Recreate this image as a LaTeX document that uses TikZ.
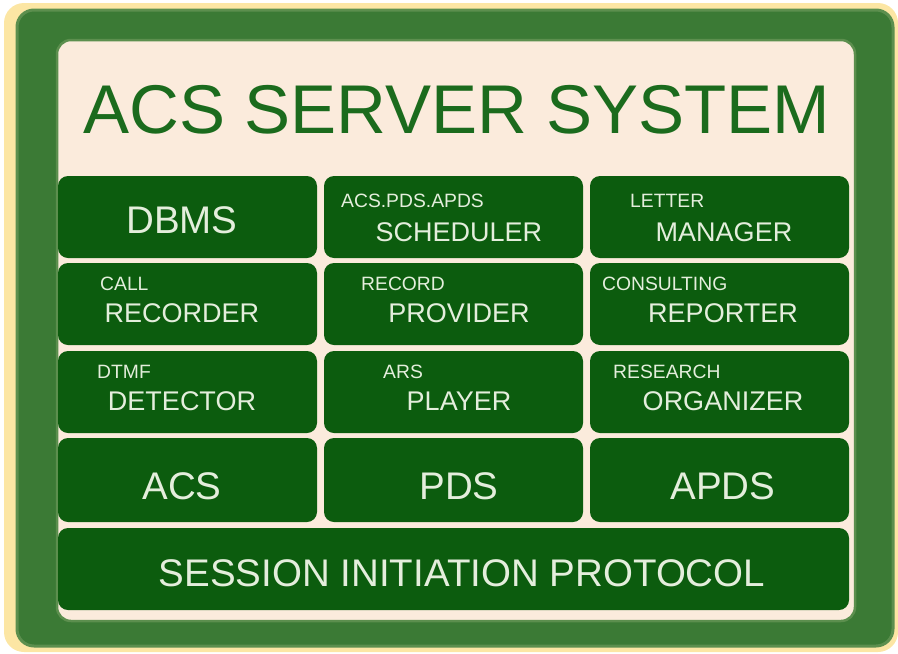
\documentclass[tikz,border=0pt]{standalone}
\usepackage{fontspec}
\setmainfont{Liberation Sans}
\usetikzlibrary{positioning}
\definecolor{glow}{HTML}{FCE6A4}
\definecolor{framegreen}{HTML}{3B7A35}
\definecolor{frameedge}{HTML}{5C8F4E}
\definecolor{panel}{HTML}{FBEBDC}
\definecolor{boxgreen}{HTML}{0C5C0E}
\definecolor{boxtext}{HTML}{E4EEDC}
\definecolor{titlegreen}{HTML}{1B6B1D}

\begin{document}
\begin{tikzpicture}[x=1pt,y=-1pt,
  block/.style={fill=boxgreen, rounded corners=10pt, minimum width=259pt, minimum height=82pt, inner sep=0pt},
  big/.style={text=boxtext, font=\fontsize{38.5}{38.5}\selectfont},
  mid/.style={text=boxtext, font=\fontsize{27}{27}\selectfont},
  tag/.style={text=boxtext, font=\fontsize{19.3}{19.3}\selectfont, anchor=west, inner sep=0pt}]
  \useasboundingbox (0,0) rectangle (898,654);

  % Frame and panel
  \fill[glow, rounded corners=20pt] (4,3) rectangle (898,652);
  \draw[fill=framegreen, draw=frameedge, line width=3pt, rounded corners=17pt] (17,10) rectangle (893,646);
  \draw[fill=panel, draw=frameedge, line width=2.5pt, rounded corners=14pt] (57,40) rectangle (855,621);

  % Title
  \node[text=titlegreen, font=\fontsize{69}{69}\selectfont] (title) at (457,110) {ACS SERVER SYSTEM};

  % Blocks
  \node[block] (dbms) at (187.5,217) {};
  \node[block] (sched) at (453.5,217) {};
  \node[block] (letter) at (719.5,217) {};
  \node[block] (callrec) at (187.5,304) {};
  \node[block] (recprov) at (453.5,304) {};
  \node[block] (consult) at (719.5,304) {};
  \node[block] (dtmf) at (187.5,392) {};
  \node[block] (arsplay) at (453.5,392) {};
  \node[block] (research) at (719.5,392) {};
  \node[block, minimum height=84pt] (acs) at (187.5,480) {};
  \node[block, minimum height=84pt] (pds) at (453.5,480) {};
  \node[block, minimum height=84pt] (apds) at (719.5,480) {};
  \node[block, minimum width=791pt] (sip) at (453.5,569) {};

  % Labels
  \node[big] at (182,220) {DBMS};
  \node[tag] at (341,201) {ACS.PDS.APDS};
  \node[mid] at (459,232) {SCHEDULER};
  \node[tag] at (630,201) {LETTER};
  \node[mid] at (724,232) {MANAGER};

  \node[tag] at (100,284) {CALL};
  \node[mid] at (182,313) {RECORDER};
  \node[tag] at (361,284) {RECORD};
  \node[mid] at (459,313) {PROVIDER};
  \node[tag] at (602,284) {CONSULTING};
  \node[mid] at (723,313) {REPORTER};

  \node[tag] at (97,372) {DTMF};
  \node[mid] at (182,401) {DETECTOR};
  \node[tag] at (383,372) {ARS};
  \node[mid] at (459,401) {PLAYER};
  \node[tag] at (613,372) {RESEARCH};
  \node[mid] at (723,401) {ORGANIZER};

  \node[big] at (182,486) {ACS};
  \node[big] at (459,486) {PDS};
  \node[big] at (723,486) {APDS};

  \node[big] at (462,573) {SESSION INITIATION PROTOCOL};
\end{tikzpicture}
\end{document}
